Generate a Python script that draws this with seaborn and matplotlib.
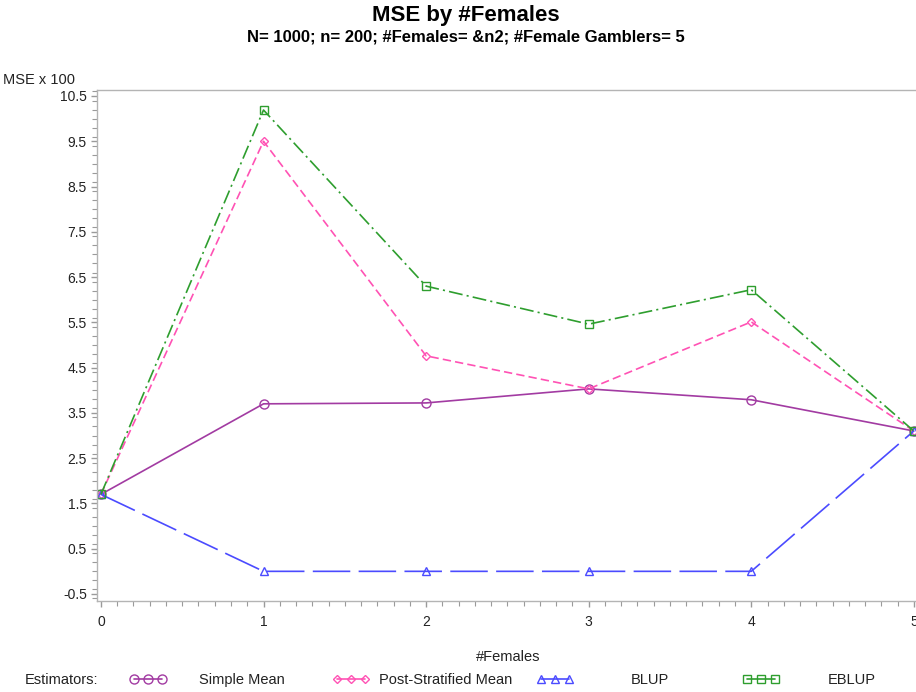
import pandas as pd
import numpy as np

import seaborn as sns
import matplotlib.pyplot as plt
from matplotlib.lines import Line2D
from matplotlib.ticker import MultipleLocator

# MSE (x 100) of each estimator by number of females
females = [0, 1, 2, 3, 4, 5]
simple_mean = [1.70, 3.70, 3.72, 4.03, 3.79, 3.10]
post_strat_mean = [1.70, 9.50, 4.76, 4.03, 5.51, 3.10]
blup = [1.70, 0.0, 0.0, 0.0, 0.0, 3.10]
eblup = [1.70, 10.19, 6.30, 5.46, 6.22, 3.10]
estimators = ['Simple Mean', 'Post-Stratified Mean', 'BLUP', 'EBLUP']

df = pd.DataFrame({
    '#Females': females * 4,
    'MSE': simple_mean + post_strat_mean + blup + eblup,
    'Estimator': np.repeat(estimators, len(females)),
})

colors = {'Simple Mean': '#A23BA2', 'Post-Stratified Mean': '#FF52B4',
          'BLUP': '#4B4BFF', 'EBLUP': '#2E9E2E'}
markers = {'Simple Mean': 'o', 'Post-Stratified Mean': 'D',
           'BLUP': '^', 'EBLUP': 's'}
msizes = {'Simple Mean': 6.5, 'Post-Stratified Mean': 4.5,
          'BLUP': 6, 'EBLUP': 6}
dashes = {'Simple Mean': '', 'Post-Stratified Mean': (6, 3),
          'BLUP': (27, 6), 'EBLUP': (10, 3, 1.5, 3)}

sns.set_style('white')
plt.rcParams['font.family'] = ['Liberation Sans', 'DejaVu Sans']
plt.rcParams['lines.scale_dashes'] = False
plt.rcParams['text.color'] = 'black'

fig = plt.figure(figsize=(9.16, 6.92), dpi=100)
ax = fig.add_axes([96.7 / 916, 0.1308, 822 / 916, 0.739])

sns.lineplot(data=df, x='#Females', y='MSE', hue='Estimator', style='Estimator',
             palette=colors, markers=markers, dashes=dashes, hue_order=estimators,
             style_order=estimators, linewidth=1.2, legend=False, ax=ax)

for line, est in zip(ax.lines, estimators):
    line.set_markerfacecolor('none')
    line.set_markeredgecolor(colors[est])
    line.set_markeredgewidth(1.0)
    line.set_markersize(msizes[est])

ax.set_xlim(-0.026, 5.03)
ax.set_ylim(-0.666, 10.63)
ax.set_xticks(range(0, 6))
ax.set_yticks(np.arange(-0.5, 10.6, 1.0))
ax.set_yticklabels([f'{v:.1f}' for v in np.arange(-0.5, 10.6, 1.0)])
ax.xaxis.set_minor_locator(MultipleLocator(0.1))
ax.yaxis.set_minor_locator(MultipleLocator(0.2))

for s in ['left', 'top', 'bottom']:
    ax.spines[s].set_color('#B4B4B4')
    ax.spines[s].set_linewidth(1.0)
ax.spines['right'].set_visible(False)
ax.tick_params(which='both', direction='out', color='#9A9A9A', labelsize=10,
               labelcolor='#222222')
ax.tick_params(which='major', length=4, width=1)
ax.tick_params(which='minor', length=3.5, width=0.8)
ax.tick_params(axis='x', which='both', bottom=True, pad=6)
ax.tick_params(axis='y', which='both', left=True, pad=3)

ax.set_xlabel('#Females', fontsize=10.5, labelpad=15, color='#222222')
ax.set_ylabel('')
fig.text(75 / 916, 1 - 80 / 692, 'MSE x 100', ha='right', va='center',
         fontsize=10.5, color='#222222')

fig.text(466 / 916, 1 - 16 / 692, 'MSE by #Females', ha='center', va='center',
         fontsize=16, fontweight='bold', color='black')
fig.text(466 / 916, 1 - 37 / 692, 'N= 1000; n= 200; #Females= &n2; #Female Gamblers= 5',
         ha='center', va='center', fontsize=12, fontweight='bold', color='black')

# legend row at the bottom
ly = 1 - 680 / 692
fig.text(25 / 916, ly, 'Estimators:', ha='left', va='center', fontsize=10.5,
         color='#222222')
handle_x = [144, 347, 551, 757]
label_x = [242, 446, 650, 852]
for est, hx, tx in zip(estimators, handle_x, label_x):
    h = Line2D([], [], color=colors[est], marker=markers[est], mfc='none',
               mec=colors[est], ms=msizes[est], lw=1.2)
    leg = fig.legend([h], [''], loc='center', bbox_to_anchor=(hx / 916 + 0.004, ly),
                     frameon=False, numpoints=3, handlelength=2.5,
                     handletextpad=0, borderpad=0, fontsize=10.5)
    fig.text(tx / 916, ly, est, ha='center', va='center', fontsize=10.5,
             color='#222222')

fig.savefig('out.png', dpi=100)
